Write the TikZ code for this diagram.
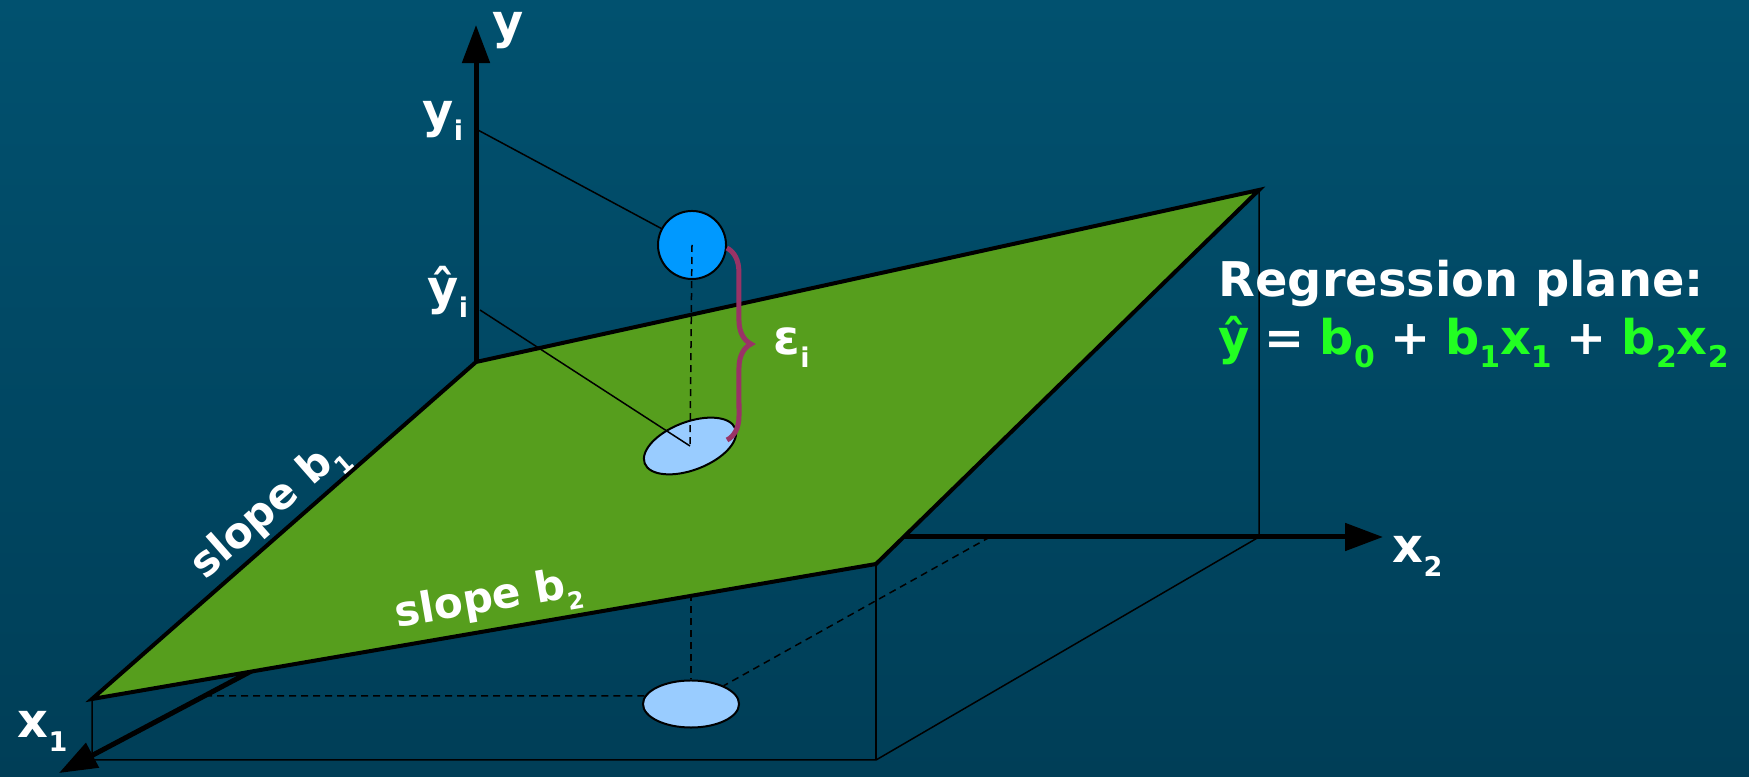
\documentclass[tikz,border=0pt]{standalone}
\usepackage{fontspec}
\setmainfont{DejaVu Sans}
\usetikzlibrary{arrows.meta, shapes.geometric, decorations.pathreplacing}

\definecolor{bgtop}{HTML}{01516F}
\definecolor{bgbot}{HTML}{003E57}
\definecolor{planegreen}{HTML}{569E1D}
\definecolor{obsblue}{HTML}{0099FF}
\definecolor{fitblue}{HTML}{99CCFF}
\definecolor{errpurple}{HTML}{993366}
\definecolor{eqgreen}{HTML}{22FF22}

% lowered small index
\newcommand{\lowsub}[2][7.7]{\raisebox{-0.13cm}{\fontsize{#1}{#1}\selectfont #2}}
\newcommand{\eqg}[1]{\textcolor{eqgreen}{#1}}

\begin{document}
\begin{tikzpicture}[
        x=0.01cm, y=-0.01cm,
        axis/.style={line width=0.05cm, -{Triangle[length=0.38cm, width=0.27cm]}},
        edge/.style={line width=0.015cm},
        guide/.style={edge, dash pattern=on 0.07cm off 0.05cm},
        plane/.style={fill=planegreen, draw=black, line width=0.04cm},
        dot/.style={draw=black, line width=0.02cm, inner sep=0pt},
        lbl/.style={text=white, inner sep=0pt, anchor=base west,
                    font=\bfseries\fontsize{13.6}{16}\selectfont},
        slopelbl/.style={lbl, anchor=center, font=\bfseries\fontsize{12}{14}\selectfont},
    ]
    % background
    \useasboundingbox (0,0) rectangle (1749,777);
    \fill[top color=bgtop, bottom color=bgbot] (0,0) rectangle (1749,777);

    % corners of the plane and the box
    \coordinate (O) at (476,537);
    \coordinate (pback) at (476,362);
    \coordinate (pright) at (1259,190);
    \coordinate (pfront) at (876,564);
    \coordinate (pleft) at (92,699);
    \coordinate (bl) at (92,760);
    \coordinate (br) at (876,760);
    \coordinate (fr) at (1259,537);

    % axes
    \coordinate (ytip) at (476,25);
    \coordinate (x2tip) at (1383,537);
    \coordinate (x1start) at (476,552);
    \coordinate (x1tip) at (59,773);
    \draw[axis] (O) -- (ytip);
    \draw[axis] (O) -- (x2tip);
    \draw[axis] (x1start) -- (x1tip);

    % box below the plane
    \draw[edge] (pleft) -- (bl) -- (br) -- (fr) -- (pright);
    \draw[edge] (pfront) -- (br);

    % projection on the floor
    \node[ellipse, dot, fill=fitblue, minimum width=0.96cm, minimum height=0.47cm] (proj) at (691,704) {};
    \coordinate (onx1) at (205,696);
    \coordinate (onx2) at (990,537);
    \coordinate (onfront) at (691,594);
    \draw[guide] (onx1) -- (proj.170);
    \draw[guide] (onx2) -- (proj);
    \draw[guide] (onfront) -- (proj.north);

    % regression plane
    \draw[plane] (pback) -- (pright) -- (pfront) -- (pleft) -- cycle;

    % observed point and fitted point
    \node[circle, dot, fill=obsblue, minimum size=0.68cm] (obs) at (692,245) {};
    \node[ellipse, dot, fill=fitblue, minimum width=0.97cm, minimum height=0.48cm, rotate=21] (fit) at (690,446) {};
    \coordinate (yi) at (476,129);
    \coordinate (yhat) at (480,310);
    \coordinate (errbot) at (727,440);
    \draw[edge] (yi) -- (obs);
    \draw[edge] (yhat) -- (fit.center);
    \draw[guide] (obs.center) -- (fit.center);
    \draw[errpurple, line width=0.05cm, decorate, decoration={brace, amplitude=0.24cm}] (obs.-5) -- (errbot);

    % labels
    \node[lbl] (ylab) at (492,39) {y};
    \node[lbl] (yilab) at (422,128) {y\lowsub{i}};
    \node[lbl] (yhatlab) at (427,305) {ŷ\lowsub{i}};
    \node[lbl] (errlab) at (773,355) {ε\lowsub{i}};
    \node[lbl] (x1lab) at (17,738) {x\lowsub{1}};
    \node[lbl] (x2lab) at (1392,563) {x\lowsub{2}};
    \node[slopelbl, rotate=41.3] (b1lab) at (270,511) {slope b\lowsub[6.8]{1}};
    \node[slopelbl, rotate=9.8] (b2lab) at (489,602) {slope b\lowsub[6.8]{2}};

    % equation of the plane
    \node[lbl] (title) at (1218,297) {Regression plane:};
    \node[lbl] (formula) at (1218,355)
        {\spaceskip=0.15cm\relax\eqg{ŷ} = \eqg{b\lowsub[8.5]{0}} + \eqg{b\lowsub[8.5]{1}x\lowsub[8.5]{1}} + \eqg{b\lowsub[8.5]{2}x\lowsub[8.5]{2}}};
\end{tikzpicture}
\end{document}
